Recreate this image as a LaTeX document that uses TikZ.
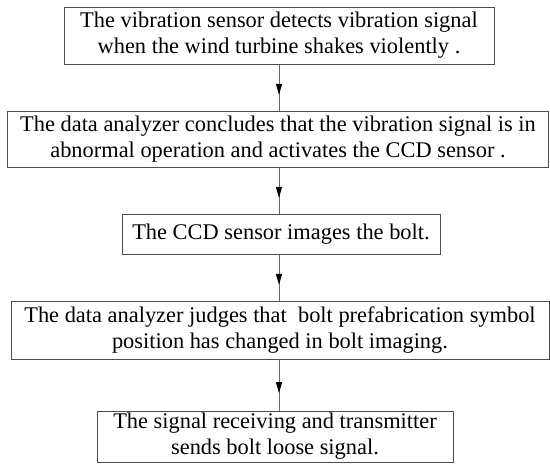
\documentclass[tikz,border=0pt]{standalone}
\usepackage{fontspec}
\setmainfont{Liberation Serif}
\newfontfamily\boxserif{Liberation Serif}
\usetikzlibrary{arrows.meta,decorations.markings}
\tikzset{
  stepbox/.style={draw=black!70, line width=1pt, rectangle, align=center, inner sep=0pt,
    font=\boxserif\fontsize{22.4}{26}\selectfont, text=black},
  conn/.style={draw=black!60, line width=1pt,
    postaction={decorate},
    decoration={markings, mark=at position 0.66 with {\arrow{Triangle[length=11pt,width=6pt,black]}}}}
}
\begin{document}
\begin{tikzpicture}[x=1pt,y=-1pt]
\useasboundingbox (0,0) rectangle (550,464);
\node[stepbox, minimum width=430pt, minimum height=57pt] (b1) at (279,35.5)
  {The vibration sensor detects vibration signal\\when the wind turbine shakes violently .};
\node[stepbox, minimum width=541pt, minimum height=56pt] (b2) at (278,139)
  {The data analyzer concludes that the vibration signal is in\\abnormal operation and activates the CCD sensor .};
\node[stepbox, minimum width=318pt, minimum height=40pt] (b3) at (281,234)
  {The CCD sensor images the bolt.};
\node[stepbox, minimum width=538pt, minimum height=58pt] (b4) at (280,330)
  {The data analyzer judges that\ \ bolt prefabrication symbol\\position has changed in bolt imaging.};
\node[stepbox, minimum width=356pt, minimum height=51pt] (b5) at (275,436.5)
  {The signal receiving and transmitter\\sends bolt loose signal.};
\coordinate (c1) at (279,0);
\draw[conn] (c1 |- b1.south) -- (c1 |- b2.north);
\draw[conn] (c1 |- b2.south) -- (c1 |- b3.north);
\draw[conn] (c1 |- b3.south) -- (c1 |- b4.north);
\draw[conn] (c1 |- b4.south) -- (c1 |- b5.north);
\end{tikzpicture}
\end{document}
